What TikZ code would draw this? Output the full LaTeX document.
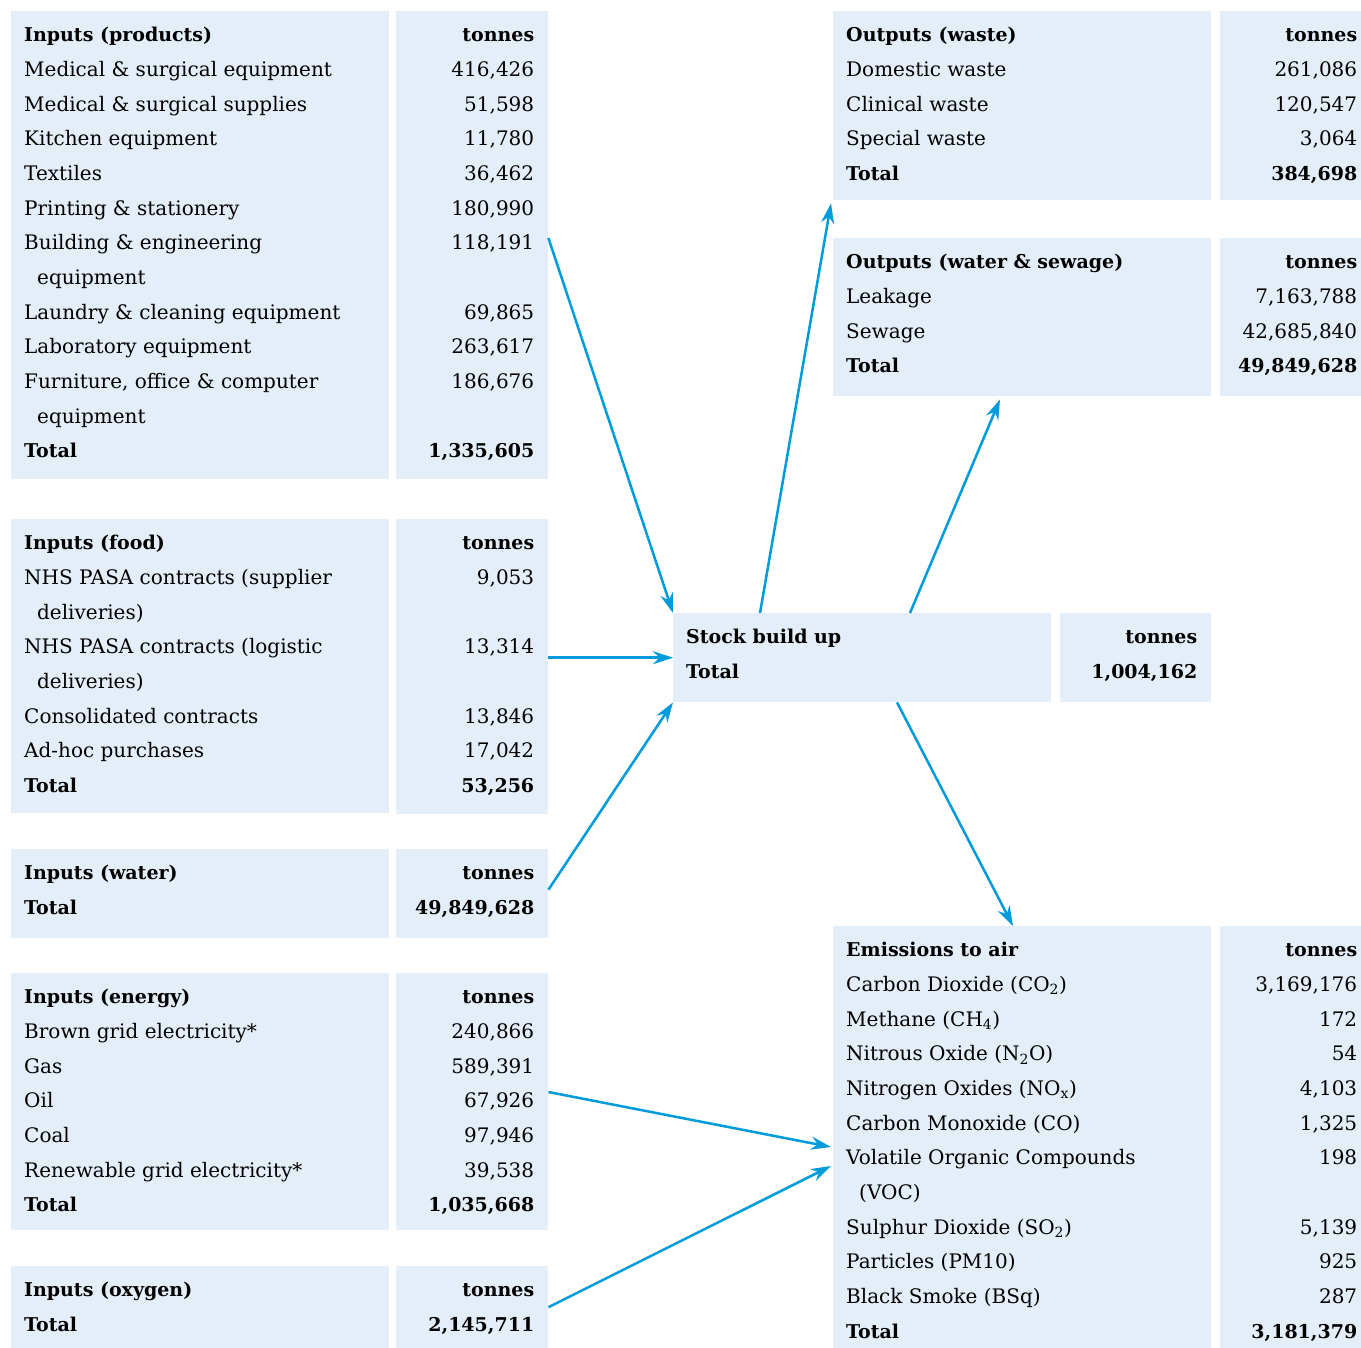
\documentclass[tikz,border=0pt]{standalone}
\usepackage{fontspec}
\setmainfont{DejaVu Serif}[BoldFeatures={Scale=0.95}]
\usetikzlibrary{arrows.meta,positioning}
\definecolor{boxblue}{RGB}{227,238,249}
\definecolor{flowblue}{RGB}{0,155,219}
\newcommand{\tstrut}{\rule{0pt}{20pt}}
\newcommand{\ind}{\hspace*{13pt}}

\begin{document}
\begin{tikzpicture}[x=1pt,y=-1pt,line join=round,>={Stealth[length=20pt,width=13pt]},
	box/.style={fill=boxblue,inner sep=0,anchor=north west},
	lbl/.style={inner sep=0,align=left,font=\fontsize{20}{34.67}\selectfont},
	val/.style={inner sep=0,align=right,font=\fontsize{20}{34.67}\selectfont},
	flow/.style={->,draw=flowblue,line width=2.5pt}]
	\useasboundingbox (0,0) rectangle (1361,1348);

	% inputs
	\node[box,minimum width=378pt,minimum height=468pt] (prodl) at (11,11) {};
	\node[box,minimum width=152pt,minimum height=468pt] (prodv) at (396,11) {};
	\node[box,minimum width=378pt,minimum height=294pt] (foodl) at (11,519) {};
	\node[box,minimum width=152pt,minimum height=295pt] (foodv) at (396,519) {};
	\node[box,minimum width=378pt,minimum height=89pt] (watl) at (11,849) {};
	\node[box,minimum width=152pt,minimum height=89pt] (watv) at (396,849) {};
	\node[box,minimum width=378pt,minimum height=257pt] (enl) at (11,973) {};
	\node[box,minimum width=152pt,minimum height=257pt] (env) at (396,973) {};
	\node[box,minimum width=378pt,minimum height=82pt] (oxl) at (11,1266) {};
	\node[box,minimum width=152pt,minimum height=82pt] (oxv) at (396,1266) {};

	% stock and outputs
	\node[box,minimum width=378pt,minimum height=89pt] (stockl) at (673,613) {};
	\node[box,minimum width=151pt,minimum height=89pt] (stockv) at (1060,613) {};
	\node[box,minimum width=378pt,minimum height=189pt] (wastel) at (833,11) {};
	\node[box,minimum width=141pt,minimum height=189pt] (wastev) at (1220,11) {};
	\node[box,minimum width=378pt,minimum height=158pt] (sewl) at (833,238) {};
	\node[box,minimum width=141pt,minimum height=158pt] (sewv) at (1220,238) {};
	\node[box,minimum width=378pt,minimum height=422pt] (emisl) at (833,926) {};
	\node[box,minimum width=141pt,minimum height=422pt] (emisv) at (1220,926) {};

	\node[lbl,below right=10.7pt and 13pt of prodl.north west] (prodt) {\tstrut\textbf{Inputs (products)}\\
		Medical \& surgical equipment\\ Medical \& surgical supplies\\ Kitchen equipment\\ Textiles\\
		Printing \& stationery\\ Building \& engineering\\ \ind equipment\\ Laundry \& cleaning equipment\\
		Laboratory equipment\\ Furniture, office \& computer\\ \ind equipment\\ \textbf{Total}};
	\node[val,below left=10.7pt and 14pt of prodv.north east] (prodn) {\tstrut\textbf{tonnes}\\
		416,426\\ 51,598\\ 11,780\\ 36,462\\ 180,990\\ 118,191\\ \mbox{}\\ 69,865\\ 263,617\\ 186,676\\ \mbox{}\\
		\textbf{1,335,605}};

	\node[lbl,below right=10.7pt and 13pt of foodl.north west] (foodt) {\tstrut\textbf{Inputs (food)}\\
		NHS PASA contracts (supplier\\ \ind deliveries)\\ NHS PASA contracts (logistic\\ \ind deliveries)\\
		Consolidated contracts\\ Ad-hoc purchases\\ \textbf{Total}};
	\node[val,below left=10.7pt and 14pt of foodv.north east] (foodn) {\tstrut\textbf{tonnes}\\
		9,053\\ \mbox{}\\ 13,314\\ \mbox{}\\ 13,846\\ 17,042\\ \textbf{53,256}};

	\node[lbl,below right=10.7pt and 13pt of watl.north west] (watt) {\tstrut\textbf{Inputs (water)}\\ \textbf{Total}};
	\node[val,below left=10.7pt and 14pt of watv.north east] (watn) {\tstrut\textbf{tonnes}\\ \textbf{49,849,628}};

	\node[lbl,below right=10.7pt and 13pt of enl.north west] (ent) {\tstrut\textbf{Inputs (energy)}\\
		Brown grid electricity*\\ Gas\\ Oil\\ Coal\\ Renewable grid electricity*\\ \textbf{Total}};
	\node[val,below left=10.7pt and 14pt of env.north east] (enn) {\tstrut\textbf{tonnes}\\
		240,866\\ 589,391\\ 67,926\\ 97,946\\ 39,538\\ \textbf{1,035,668}};

	\node[lbl,below right=10.7pt and 13pt of oxl.north west] (oxt) {\tstrut\textbf{Inputs (oxygen)}\\ \textbf{Total}};
	\node[val,below left=10.7pt and 14pt of oxv.north east] (oxn) {\tstrut\textbf{tonnes}\\ \textbf{2,145,711}};

	\node[lbl,below right=10.7pt and 13pt of stockl.north west] (stockt) {\tstrut\textbf{Stock build up}\\ \textbf{Total}};
	\node[val,below left=10.7pt and 14pt of stockv.north east] (stockn) {\tstrut\textbf{tonnes}\\ \textbf{1,004,162}};

	\node[lbl,below right=10.7pt and 13pt of wastel.north west] (wastet) {\tstrut\textbf{Outputs (waste)}\\
		Domestic waste\\ Clinical waste\\ Special waste\\ \textbf{Total}};
	\node[val,below left=10.7pt and 4pt of wastev.north east] (wasten) {\tstrut\textbf{tonnes}\\
		261,086\\ 120,547\\ 3,064\\ \textbf{384,698}};

	\node[lbl,below right=10.7pt and 13pt of sewl.north west] (sewt) {\tstrut\textbf{Outputs (water \& sewage)}\\
		Leakage\\ Sewage\\ \textbf{Total}};
	\node[val,below left=10.7pt and 4pt of sewv.north east] (sewn) {\tstrut\textbf{tonnes}\\
		7,163,788\\ 42,685,840\\ \textbf{49,849,628}};

	\node[lbl,below right=10.7pt and 13pt of emisl.north west] (emist) {\tstrut\textbf{Emissions to air}\\
		Carbon Dioxide (CO\textsubscript{2})\\ Methane (CH\textsubscript{4})\\ Nitrous Oxide (N\textsubscript{2}O)\\
		Nitrogen Oxides (NO\textsubscript{x})\\ Carbon Monoxide (CO)\\ Volatile Organic Compounds\\ \ind (VOC)\\
		Sulphur Dioxide (SO\textsubscript{2})\\ Particles (PM10)\\ Black Smoke (BSq)\\ \textbf{Total}};
	\node[val,below left=10.7pt and 4pt of emisv.north east] (emisn) {\tstrut\textbf{tonnes}\\
		3,169,176\\ 172\\ 54\\ 4,103\\ 1,325\\ 198\\ \mbox{}\\ 5,139\\ 925\\ 287\\ \textbf{3,181,379}};

	% flows
	\draw[flow] ([yshift=-227pt]prodv.north east) -- (stockl.north west);
	\draw[flow] (foodv.east |- stockl.west) -- (stockl.west);
	\draw[flow] ([yshift=4pt]watv.east) -- (stockl.south west);
	\draw[flow] ([xshift=87pt]stockl.north west) -- ([xshift=-2pt,yshift=-3pt]wastel.south west);
	\draw[flow] ([xshift=237pt]stockl.north west) -- ([xshift=167pt,yshift=-3pt]sewl.south west);
	\draw[flow] ([xshift=224pt]stockl.south west) -- ([xshift=180pt]emisl.north west);
	\draw[flow] ([yshift=-119pt]env.north east) -- ([xshift=-2pt,yshift=-221pt]emisl.north west);
	\draw[flow] (oxv.east) -- ([xshift=-2pt,yshift=-240pt]emisl.north west);
\end{tikzpicture}
\end{document}
